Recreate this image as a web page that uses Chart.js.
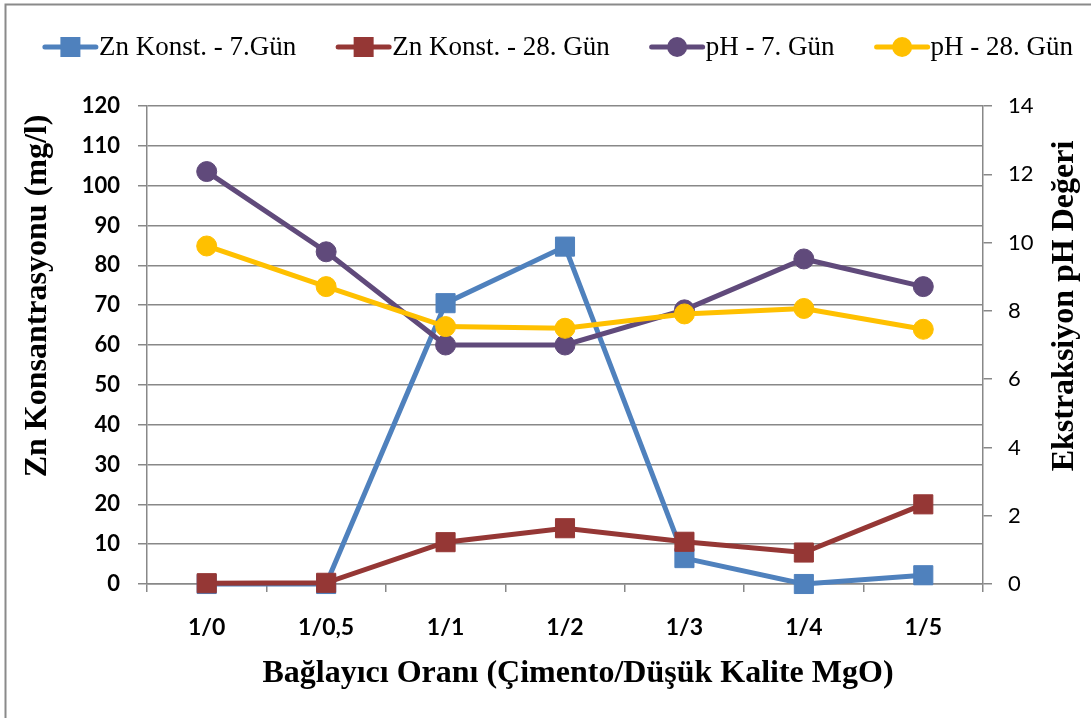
<!DOCTYPE html>
<html>
<head>
<meta charset="utf-8">
<script src="https://cdn.jsdelivr.net/npm/chart.js@4.4.0/dist/chart.umd.min.js"></script>
<style>
  html, body { margin: 0; padding: 0; background: #ffffff; }
  canvas { display: block; }
</style>
</head>
<body>
<canvas id="chart" width="1091" height="718"></canvas>
<script>
// Binder ratios (cement / low-grade MgO)
const categories = ['1/0', '1/0,5', '1/1', '1/2', '1/3', '1/4', '1/5'];

// Zn concentration in the extract, mg/l
const znDay7  = [0, 0, 70.5, 84.7, 6.5, 0, 2.2];
const znDay28 = [0.2, 0.3, 10.5, 14.0, 10.6, 7.9, 20.0];

// Extraction pH
const phDay7  = [12.08, 9.73, 7.0, 7.0, 8.03, 9.52, 8.71];
const phDay28 = [9.9, 8.71, 7.54, 7.49, 7.91, 8.07, 7.46];

const seriesLabels = ['Zn Konst. - 7.Gün', 'Zn Konst. - 28. Gün', 'pH - 7. Gün', 'pH - 28. Gün'];

// Axis ranges
const znAxis = { min: 0, max: 120, step: 10 };
const phAxis = { min: 0, max: 14, step: 2 };

const titleX = 'Bağlayıcı Oranı (Çimento/Düşük Kalite MgO)';
const titleLeft = 'Zn Konsantrasyonu (mg/l)';
const titleRight = 'Ekstraksiyon pH Değeri';

const GRID = '#888888';
const SERIF = '"Liberation Serif", "Times New Roman", serif';
const SANS = 'Lato, "Open Sans", sans-serif';

// White page with a thin grey frame
const framePlugin = {
  id: 'frame',
  beforeDraw(chart) {
    const ctx = chart.ctx;
    ctx.save();
    ctx.fillStyle = '#ffffff';
    ctx.fillRect(0, 0, chart.width, chart.height);
    ctx.strokeStyle = '#8a8a8a';
    ctx.lineWidth = 2;
    ctx.strokeRect(5.5, 4.5, chart.width + 20, chart.height + 20);
    ctx.restore();
  }
};

// Legend row: a short line with the series marker, then the label
const lineLegendPlugin = {
  id: 'lineLegend',
  afterDraw(chart) {
    const ctx = chart.ctx;
    const lineLen = 55, gap = 40, cy = 47, centerX = 558;
    ctx.save();
    ctx.font = '27px ' + SERIF;
    const items = chart.data.datasets.map(ds => ({ ds, w: ctx.measureText(ds.label).width }));
    const total = items.reduce((s, it) => s + lineLen + 1 + it.w, 0) + gap * (items.length - 1);
    let x = centerX - total / 2;
    items.forEach(({ ds, w }) => {
      ctx.strokeStyle = ds.borderColor;
      ctx.lineWidth = 5;
      ctx.lineCap = 'round';
      ctx.beginPath();
      ctx.moveTo(x + 2, cy);
      ctx.lineTo(x + lineLen - 2, cy);
      ctx.stroke();
      const mx = x + lineLen / 2;
      ctx.fillStyle = ds.borderColor;
      if (ds.pointStyle === 'rect') {
        ctx.fillRect(mx - 10, cy - 10, 20, 20);
      } else {
        ctx.beginPath();
        ctx.arc(mx, cy, 10, 0, Math.PI * 2);
        ctx.fill();
      }
      ctx.fillStyle = '#000000';
      ctx.textBaseline = 'middle';
      ctx.textAlign = 'left';
      ctx.fillText(ds.label, x + lineLen + 1, cy + 1);
      x += lineLen + 1 + w + gap;
    });
    ctx.restore();
  }
};

// Axis titles: vertical ones read bottom-to-top
const axisTitlesPlugin = {
  id: 'axisTitles',
  afterDraw(chart) {
    const ctx = chart.ctx;
    ctx.save();
    ctx.font = 'bold 32px ' + SERIF;
    ctx.fillStyle = '#000000';
    ctx.textAlign = 'center';
    ctx.textBaseline = 'middle';
    ctx.fillText(titleX, 578, 674);
    [[titleLeft, 38, 296], [titleRight, 1065, 306]].forEach(([t, x, y]) => {
      ctx.save();
      ctx.translate(x, y);
      ctx.rotate(-Math.PI / 2);
      ctx.fillText(t, 0, 0);
      ctx.restore();
    });
    ctx.restore();
  }
};

function series(label, data, color, style, radius, axis, order) {
  return {
    label, data, yAxisID: axis, order,
    borderColor: color, backgroundColor: color,
    borderWidth: 5, tension: 0,
    pointStyle: style, pointRadius: radius, pointHoverRadius: radius,
    pointBackgroundColor: color, pointBorderColor: color, pointBorderWidth: 1,
    clip: false
  };
}

new Chart(document.getElementById('chart'), {
  type: 'line',
  data: {
    labels: categories,
    datasets: [
      series(seriesLabels[0], znDay7,  '#4F81BD', 'rect',   13.5, 'y',  4),
      series(seriesLabels[1], znDay28, '#953735', 'rect',   13.5, 'y',  3),
      series(seriesLabels[2], phDay7,  '#604A7B', 'circle', 10,   'y2', 2),
      series(seriesLabels[3], phDay28, '#FFC000', 'circle', 10,   'y2', 1)
    ]
  },
  options: {
    responsive: false,
    animation: false,
    events: [],
    layout: { padding: { top: 106, left: 0, right: 0, bottom: 0 } },
    plugins: { legend: { display: false }, tooltip: { enabled: false } },
    scales: {
      x: {
        type: 'category',
        offset: true,
        grid: { offset: true, drawOnChartArea: false, drawTicks: true, tickLength: 8, color: GRID, lineWidth: 1.5 },
        border: { color: GRID, width: 1.5 },
        ticks: { color: '#000', font: { family: SANS, size: 23, weight: 'bold' }, padding: 22, maxRotation: 0, autoSkip: false },
        afterFit(scale) { scale.height = 134; }
      },
      y: {
        position: 'left',
        min: znAxis.min, max: znAxis.max,
        grid: { color: GRID, lineWidth: 1.5, tickLength: 9 },
        border: { color: GRID, width: 1.5 },
        ticks: { stepSize: znAxis.step, color: '#000', font: { family: SANS, size: 22, weight: 'bold' }, padding: 18 },
        afterFit(scale) { scale.width = 147; }
      },
      y2: {
        position: 'right',
        min: phAxis.min, max: phAxis.max,
        grid: { drawOnChartArea: false, color: GRID, lineWidth: 1.5, tickLength: 9 },
        border: { color: GRID, width: 1.5 },
        ticks: { stepSize: phAxis.step, color: '#000', font: { family: SANS, size: 22 }, padding: 16 },
        afterFit(scale) { scale.width = 108; }
      }
    }
  },
  plugins: [framePlugin, lineLegendPlugin, axisTitlesPlugin]
});
</script>
</body>
</html>
